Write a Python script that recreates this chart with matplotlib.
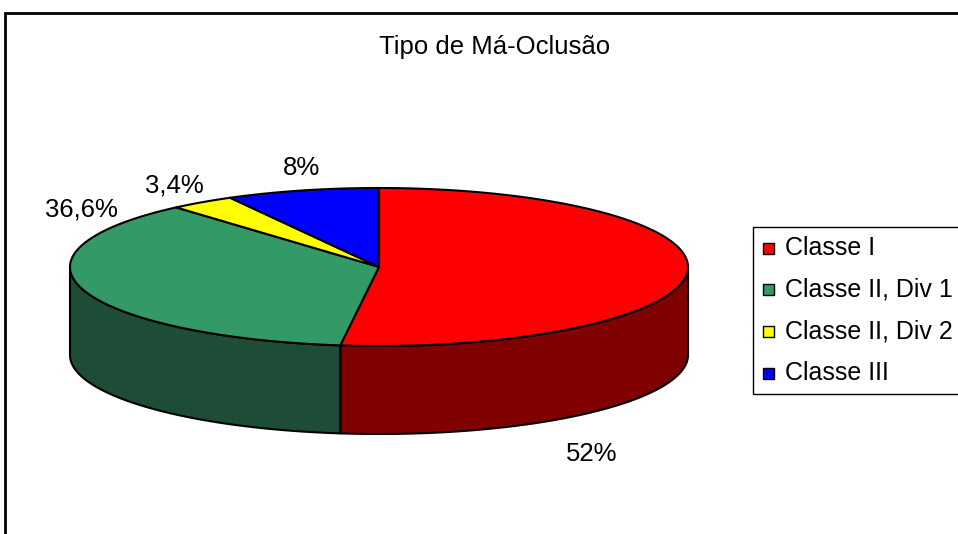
import numpy as np
import matplotlib.pyplot as plt
from matplotlib.patches import Polygon, Rectangle

plt.rcParams['font.family'] = ['Liberation Sans', 'DejaVu Sans']

titulo = 'Tipo de Má-Oclusão'
categorias = ['Classe I', 'Classe II, Div 1', 'Classe II, Div 2', 'Classe III']
percentuais = [52, 36.6, 3.4, 8]
cores_topo = ['#FF0000', '#339966', '#FFFF00', '#0000FF']
cores_lado = ['#800000', '#1E4D37', '#808000', '#000080']

# posicoes dos rotulos (pixels), como no Excel
rotulos_pos = [(592, 454), (81, 209), (174, 186), (302, 168)]

W, H = 958, 534
fig = plt.figure(figsize=(W / 100, H / 100), dpi=100)
ax = fig.add_axes([0, 0, 1, 1])
ax.set_xlim(0, W)
ax.set_ylim(H, 0)
ax.axis('off')

# geometria da pizza 3D
cx, cy, rx, ry, prof = 379, 267, 309, 79, 88


def ponto(t, dy=0):
    r = np.radians(t)
    return cx + rx * np.sin(r), cy - ry * np.cos(r) + dy


def arco(a, b, dy=0):
    ts = np.linspace(a, b, max(int(abs(b - a)) * 2, 2))
    return [ponto(t, dy) for t in ts]


angulos = np.concatenate([[0], np.cumsum(percentuais) / sum(percentuais) * 360])

# lados (so a metade da frente aparece)
for i in range(len(percentuais)):
    a, b = angulos[i], angulos[i + 1]
    s, e = max(a, 90), min(b, 270)
    if e <= s:
        continue
    pts = arco(s, e) + arco(e, s, prof)
    ax.add_patch(Polygon(pts, closed=True, facecolor=cores_lado[i],
                         edgecolor='black', lw=1.5, joinstyle='round'))

# topo
for i in range(len(percentuais)):
    a, b = angulos[i], angulos[i + 1]
    pts = [(cx, cy)] + arco(a, b)
    ax.add_patch(Polygon(pts, closed=True, facecolor=cores_topo[i],
                         edgecolor='black', lw=1.5, joinstyle='round'))

# rotulos
for v, (x, y) in zip(percentuais, rotulos_pos):
    txt = f'{v:g}'.replace('.', ',') + '%'
    ax.text(x, y, txt, ha='center', va='center', fontsize=18.5)

ax.text(495, 47, titulo, ha='center', va='center', fontsize=18.5)

# legenda
ax.add_patch(Rectangle((753, 227), 240, 167, facecolor='white',
                       edgecolor='black', lw=1, clip_on=False))
for i, cat in enumerate(categorias):
    yy = 248 + i * 41.7
    ax.add_patch(Rectangle((763, yy - 5.5), 11, 11, facecolor=cores_topo[i],
                           edgecolor='black', lw=1))
    ax.text(785, yy, cat, ha='left', va='center', fontsize=18)

# moldura do grafico
ax.plot([5, 5, W + 10], [H + 10, 13, 13], color='black', lw=2, clip_on=False,
        solid_joinstyle='miter')

fig.savefig('out.png', dpi=100)
